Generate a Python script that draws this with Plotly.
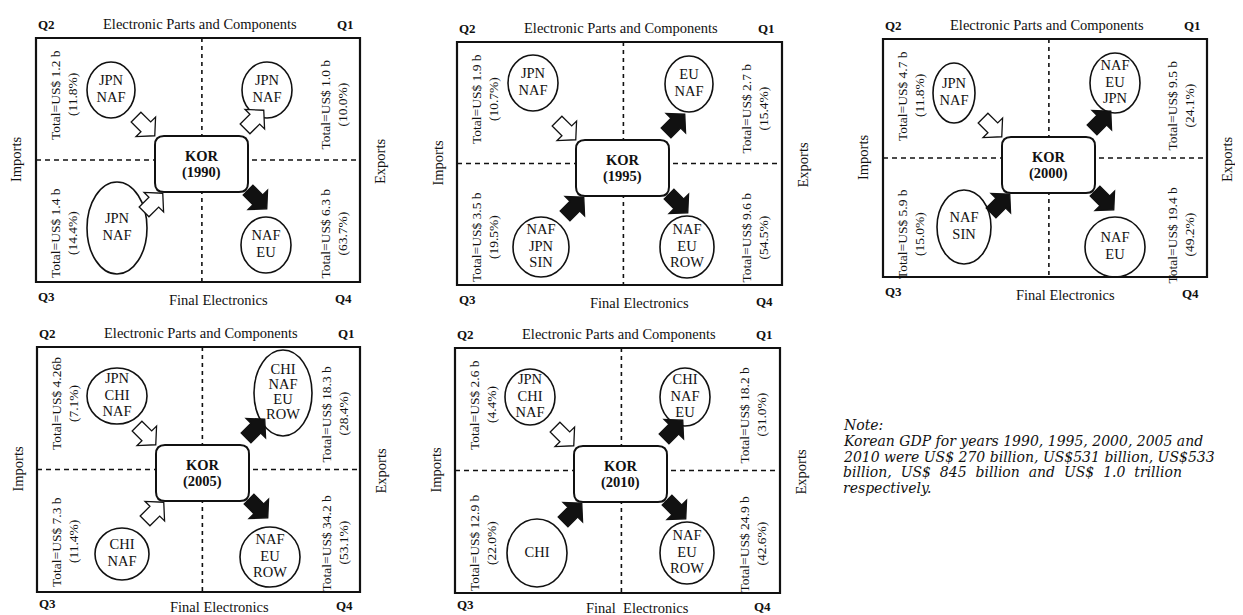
import plotly.graph_objects as go
import math

# ---------------- data ----------------
years = ["1990", "1995", "2000", "2005", "2010"]

q1_total = ["1.0 b", "2.7 b", "9.5 b", "18.3 b", "18.2 b"]
q1_share = ["10.0%", "15.4%", "24.1%", "28.4%", "31.0%"]
q2_total = ["1.2 b", "1.9 b", "4.7 b", "4.26b", "2.6 b"]
q2_share = ["11.8%", "10.7%", "11.8%", "7.1%", "4.4%"]
q3_total = ["1.4 b", "3.5 b", "5.9 b", "7.3 b", "12.9 b"]
q3_share = ["14.4%", "19.5%", "15.0%", "11.4%", "22.0%"]
q4_total = ["6.3 b", "9.6 b", "19.4 b", "34.2 b", "24.9 b"]
q4_share = ["63.7%", "54.5%", "49.2%", "53.1%", "42.6%"]

q1_partners = [["JPN", "NAF"], ["EU", "NAF"], ["NAF", "EU", "JPN"],
               ["CHI", "NAF", "EU", "ROW"], ["CHI", "NAF", "EU"]]
q2_partners = [["JPN", "NAF"], ["JPN", "NAF"], ["JPN", "NAF"],
               ["JPN", "CHI", "NAF"], ["JPN", "CHI", "NAF"]]
q3_partners = [["JPN", "NAF"], ["NAF", "JPN", "SIN"], ["NAF", "SIN"],
               ["CHI", "NAF"], ["CHI"]]
q4_partners = [["NAF", "EU"], ["NAF", "EU", "ROW"], ["NAF", "EU"],
               ["NAF", "EU", "ROW"], ["NAF", "EU", "ROW"]]

# filled (black) arrow = True, hollow (white) arrow = False
q1_dark = [False, True, True, True, True]
q2_dark = [False, False, False, False, False]
q3_dark = [False, True, True, False, True]
q4_dark = [True, True, True, True, True]

top_label = "Electronic Parts and Components"
bottom_label = ["Final Electronics", "Final Electronics", "Final Electronics",
                "Final Electronics", "Final\u00a0 Electronics"]
note_lines = [
    "Note:",
    "Korean GDP for years 1990, 1995, 2000, 2005 and",
    "2010 were US$ 270 billion, US$531 billion, US$533",
    "billion,\u00a0 US$\u00a0 845\u00a0 billion\u00a0 and\u00a0 US$\u00a0 1.0\u00a0 trillion",
    "respectively.",
]

# ---------------- layout / style ----------------
PAGE_W, PAGE_H, BODY_MARGIN = 1243, 615, 8
FONT = "Liberation Serif"
NOTE_FONT = "DejaVu Serif"
INK = "#111111"

panel_origin = [(36, 38), (457, 42), (883, 39), (37, 347), (455, 348)]
panel_size = [(324, 244), (325, 243), (324, 238), (323, 245), (325, 245)]
bottom_off = [(14, 18), (14, 18), (14, 18), (11, 15), (11, 15)]

# circle geometry per panel: (cx, cy, rx, ry) relative to the panel box, for Q1..Q4
circ = [
    [(231, 52, 25, 28), (75, 52, 24, 28), (81, 190, 30, 46), (230, 207, 25, 28)],
    [(232, 42, 24, 28), (76, 41, 25, 28), (84, 205, 28, 30), (230, 205, 27, 31)],
    [(232, 44, 25, 30), (71, 54, 21, 30), (81, 188, 27, 37), (232, 208, 30, 30)],
    [(246, 46, 29, 43), (80, 49, 30, 28), (85, 207, 27, 26), (233, 210, 30, 30)],
    [(230, 49, 25, 29), (75, 49, 25, 28), (82, 205, 30, 34), (232, 205, 27, 31)],
]
arrow_pos = [(218, 82), (109, 88), (117, 165), (221, 161)]   # Q1..Q4
arrow_dir = [(1, -1), (1, 1), (1, -1), (1, 1)]
kor_box = (119, 98, 212, 154)

fig = go.Figure()
shapes = []
ann = []


def text(x, y, s, size=14, bold=False, angle=0, xanchor="center", italic=False,
         family=FONT):
    if bold:
        s = "<b>" + s + "</b>"
    if italic:
        s = "<i>" + s + "</i>"
    ann.append(dict(x=x, y=y, xref="x", yref="y", text=s, showarrow=False,
                    textangle=angle, xanchor=xanchor, yanchor="middle",
                    font=dict(family=family, size=size, color=INK)))


def arrow_path(cx, cy, d, dark):
    dx, dy = d
    n = math.hypot(dx, dy)
    dx, dy = dx / n, dy / n
    px, py = -dy, dx
    k = 1.15
    local = [(-11, -6), (1, -6), (1, -12), (12, 0), (1, 12), (1, 6), (-11, 6)]
    pts = [(cx + k * (u * dx + v * px), cy + k * (u * dy + v * py)) for u, v in local]
    path = "M " + " L ".join(f"{x:.2f},{y:.2f}" for x, y in pts) + " Z"
    shapes.append(dict(type="path", xref="x", yref="y", path=path,
                       fillcolor=INK if dark else "white",
                       line=dict(color=INK, width=1.3)))


def rounded_rect(x0, y0, x1, y1, r):
    return (f"M {x0+r},{y0} L {x1-r},{y0} Q {x1},{y0} {x1},{y0+r} "
            f"L {x1},{y1-r} Q {x1},{y1} {x1-r},{y1} L {x0+r},{y1} "
            f"Q {x0},{y1} {x0},{y1-r} L {x0},{y0+r} Q {x0},{y0} {x0+r},{y0} Z")


def rotated_pair(x, y, l1, l2):
    text(x - 8.5, y, l1, size=13.5, angle=-90)
    text(x + 8.5, y, l2, size=13.5, angle=-90)


circle_x, circle_y, circle_t = [], [], []

for i, yr in enumerate(years):
    ox, oy = panel_origin[i]
    w, h = panel_size[i]
    vx = ox + 0.512 * w
    hy = oy + h / 2
    # dashed quadrant dividers
    shapes.append(dict(type="line", xref="x", yref="y", x0=vx, x1=vx, y0=oy, y1=oy + h,
                       line=dict(color=INK, width=1.6, dash="4px,4px")))
    shapes.append(dict(type="line", xref="x", yref="y", x0=ox, x1=ox + w, y0=hy, y1=hy,
                       line=dict(color=INK, width=1.6, dash="5px,4px")))
    # outer frame
    shapes.append(dict(type="rect", xref="x", yref="y", x0=ox, x1=ox + w, y0=oy, y1=oy + h,
                       line=dict(color=INK, width=2.2)))
    # KOR box
    kx0, ky0, kx1, ky1 = kor_box
    shapes.append(dict(type="path", xref="x", yref="y",
                       path=rounded_rect(ox + kx0, oy + ky0, ox + kx1, oy + ky1, 9),
                       fillcolor="white", line=dict(color=INK, width=2)))
    text(ox + (kx0 + kx1) / 2, oy + (ky0 + ky1) / 2 - 8, "KOR", size=14.5, bold=True)
    text(ox + (kx0 + kx1) / 2, oy + (ky0 + ky1) / 2 + 8, "(" + yr + ")", size=14.5, bold=True)

    partners = [q1_partners[i], q2_partners[i], q3_partners[i], q4_partners[i]]
    darks = [q1_dark[i], q2_dark[i], q3_dark[i], q4_dark[i]]
    for q in range(4):
        cx, cy, rx, ry = circ[i][q]
        shapes.append(dict(type="circle", xref="x", yref="y",
                           x0=ox + cx - rx, x1=ox + cx + rx, y0=oy + cy - ry, y1=oy + cy + ry,
                           fillcolor="rgba(0,0,0,0)", line=dict(color=INK, width=1.6)))
        names = partners[q]
        sp = 15 if len(names) > 3 else 16.5
        for k, nm in enumerate(names):
            circle_x.append(ox + cx)
            circle_y.append(oy + cy + (k - (len(names) - 1) / 2) * sp)
            circle_t.append(nm)
        ax, ay = arrow_pos[q]
        arrow_path(ox + ax, oy + ay, arrow_dir[q], darks[q])

    # rotated totals
    rotated_pair(ox + 27.5, oy + 57, f"Total=US$ {q2_total[i]}", f"({q2_share[i]})")
    rotated_pair(ox + 27.5, oy + 195, f"Total=US$ {q3_total[i]}", f"({q3_share[i]})")
    rotated_pair(ox + 297, oy + 67, f"Total=US$ {q1_total[i]}", f"({q1_share[i]})")
    rotated_pair(ox + 297, oy + 196, f"Total=US$ {q4_total[i]}", f"({q4_share[i]})")

    # quadrant labels and titles
    b1, b2 = bottom_off[i]
    text(ox + 10, oy - 14, "Q2", size=13, bold=True)
    text(ox + 309, oy - 14, "Q1", size=13, bold=True)
    text(ox + 10, oy + h + b1, "Q3", size=13, bold=True)
    text(ox + 307, oy + h + b1 + 2, "Q4", size=13, bold=True)
    text(ox + 164, oy - 14, top_label, size=14.5)
    text(ox + 182, oy + h + b2, bottom_label[i], size=14.5)
    text(ox - 20, oy + h / 2, "Imports", size=14.5, angle=-90)
    text(ox + w + 20, oy + h / 2 + 2, "Exports", size=14.5, angle=-90)

fig.add_trace(go.Scatter(x=circle_x, y=circle_y, text=circle_t, mode="text",
                         textfont=dict(family=FONT, size=14.5, color=INK),
                         hoverinfo="skip", showlegend=False))

note_y = [425, 441, 457, 472, 488]
for s, y in zip(note_lines, note_y):
    text(841, y, s, size=14, italic=True, xanchor="left", family=NOTE_FONT)

# the page body has an 8px margin: size the figure to the visible area and
# offset the axes so that axis units equal page pixels
fig.update_layout(
    width=PAGE_W - BODY_MARGIN, height=PAGE_H - BODY_MARGIN,
    margin=dict(l=0, r=0, t=0, b=0),
    paper_bgcolor="white", plot_bgcolor="white",
    xaxis=dict(range=[BODY_MARGIN, PAGE_W], visible=False, fixedrange=True),
    yaxis=dict(range=[PAGE_H, BODY_MARGIN], visible=False, fixedrange=True),
    shapes=shapes, annotations=ann, showlegend=False,
)
fig.write_html("out.html")
